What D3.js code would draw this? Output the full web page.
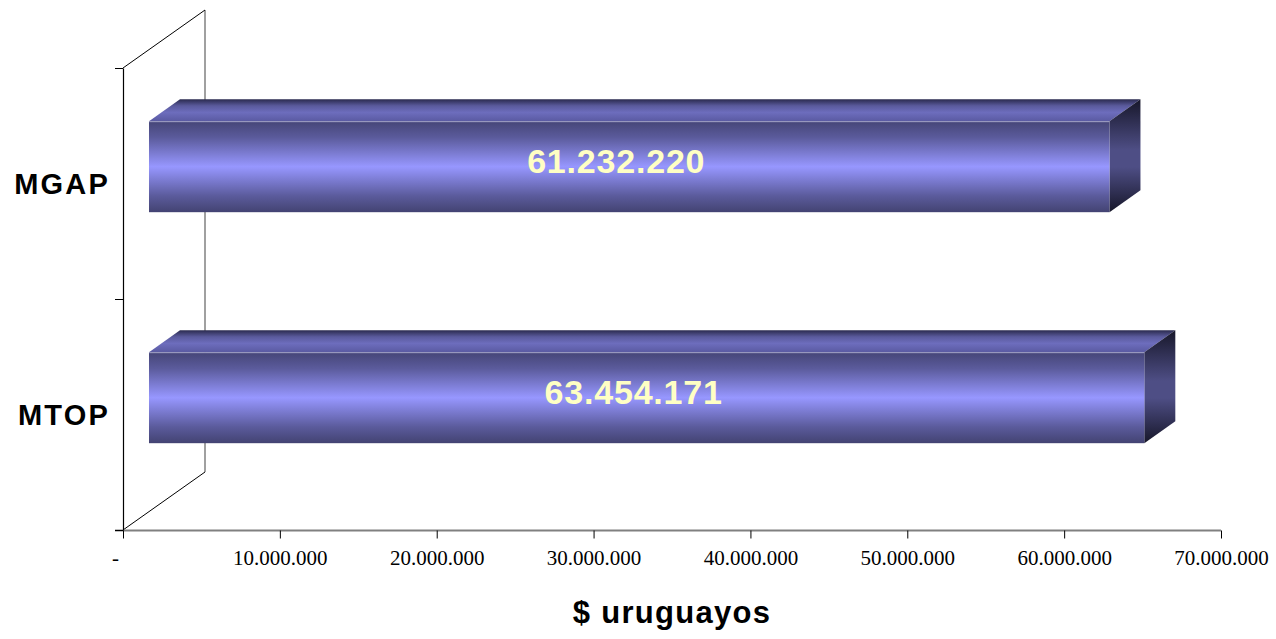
<!DOCTYPE html>
<html>
<head>
<meta charset="utf-8">
<script src="https://cdn.jsdelivr.net/npm/d3@7"></script>
<style>
  body { margin: 0; background: #fff; }
  svg { display: block; }
</style>
</head>
<body>
<svg id="chart" width="1276" height="639"></svg>
<script>
// data
const categories = ["MGAP", "MTOP"];
const values = [61232220, 63454171];
const xTicks = [0, 10000000, 20000000, 30000000, 40000000, 50000000, 60000000, 70000000];
const axisTitle = "$ uruguayos";

const svg = d3.select("#chart");
const defs = svg.append("defs");

const locale = d3.formatLocale({decimal: ",", thousands: ".", grouping: [3], currency: ["$", ""]});
const fmt = locale.format(",d");

// front plane
const x = d3.scaleLinear().domain([0, 70000000]).range([123, 1221]);
const y = d3.scaleBand().domain(categories).range([68, 530])
    .paddingInner(0.606).paddingOuter(0.303);
const yEdge = d3.scaleLinear().domain([0, categories.length]).range([68, 530]);

// depth of the 3d box
const wallDx = 82, wallDy = -58;
const fdx = wallDx * 0.317, fdy = wallDy * 0.29;
const bdx = wallDx * 0.695 - fdx, bdy = wallDy * 0.695 - wallDy * 0.317;

function vGrad(id, stops) {
    const g = defs.append("linearGradient").attr("id", id)
        .attr("x1", 0).attr("y1", 0).attr("x2", 0).attr("y2", 1);
    stops.forEach(s => g.append("stop").attr("offset", s[0]).attr("stop-color", s[1]));
}
vGrad("gFront", [[0, "#454577"], [0.18, "#5b5b9c"], [0.5, "#9797ff"], [0.82, "#5b5b9c"], [1, "#434372"]]);
vGrad("gTop", [[0, "#2a2a4e"], [0.3, "#5a5a9c"], [0.6, "#6d6dbd"], [1, "#5a5aa2"]]);
vGrad("gSide", [[0, "#17172a"], [0.45, "#4e4e85"], [0.6, "#4e4e85"], [1, "#17172a"]]);

// back wall edge
svg.append("line")
    .attr("x1", x(0) + wallDx).attr("y1", yEdge(0) + wallDy)
    .attr("x2", x(0) + wallDx).attr("y2", yEdge(categories.length) + wallDy)
    .attr("stroke", "#808080").attr("stroke-width", 1.5);

// diagonals from front to back
[0, categories.length].forEach(v => {
    svg.append("line")
        .attr("x1", x(0)).attr("y1", yEdge(v))
        .attr("x2", x(0) + wallDx).attr("y2", yEdge(v) + wallDy)
        .attr("stroke", "#000").attr("stroke-width", 1);
});

// bottom axis
const xAxis = svg.append("g")
    .attr("transform", `translate(0,${yEdge(categories.length) + 0.5})`)
    .call(d3.axisBottom(x).tickValues(xTicks).tickSize(8).tickSizeOuter(0)
        .tickFormat(d => d === 0 ? "-" : fmt(d)));
xAxis.select(".domain").attr("stroke", "#808080").attr("stroke-width", 2)
    .attr("d", `M${x(0) - 8},0H${x(70000000)}`);
xAxis.selectAll(".tick line").attr("stroke", "#000");
xAxis.selectAll(".tick text")
    .attr("font-family", "'Liberation Serif', 'Times New Roman', serif")
    .attr("font-size", 21).attr("fill", "#000").attr("dy", "1.1em")
    .attr("dx", d => d === 0 ? -8 : 0);

// left axis
const yAxis = svg.append("g")
    .attr("transform", `translate(${x(0)},0)`)
    .call(d3.axisLeft(yEdge).tickValues(d3.range(categories.length + 1))
        .tickSize(8).tickSizeOuter(0).tickFormat(""));
yAxis.select(".domain").attr("stroke", "#000").attr("stroke-width", 1.2);
yAxis.selectAll(".tick line").attr("stroke", "#000");

// category labels
svg.append("g").selectAll("text")
    .data(categories)
    .enter().append("text")
    .attr("x", 110)
    .attr("y", d => y(d) + y.bandwidth() / 2)
    .attr("text-anchor", "end")
    .attr("dominant-baseline", "central")
    .attr("font-family", "'Liberation Sans', Arial, sans-serif")
    .attr("font-weight", "bold")
    .attr("font-size", 29)
    .attr("letter-spacing", 2.2)
    .text(d => d);

// bars
const bars = svg.append("g").selectAll("g")
    .data(categories.map((c, i) => ({cat: c, value: values[i]})))
    .enter().append("g");

bars.each(function(d) {
    const g = d3.select(this);
    const x0 = x(0) + fdx, x1 = x(d.value) + fdx;
    const yT = y(d.cat) + fdy, yB = yT + y.bandwidth();
    g.append("polygon")
        .attr("points", [[x0, yT], [x0 + bdx, yT + bdy], [x1 + bdx, yT + bdy], [x1, yT]].join(" "))
        .attr("fill", "url(#gTop)");
    g.append("polygon")
        .attr("points", [[x1, yT], [x1 + bdx, yT + bdy], [x1 + bdx, yB + bdy], [x1, yB]].join(" "))
        .attr("fill", "url(#gSide)");
    g.append("rect")
        .attr("x", x0).attr("y", yT)
        .attr("width", x1 - x0).attr("height", yB - yT)
        .attr("fill", "url(#gFront)");
    g.append("line")
        .attr("x1", x0).attr("y1", yT + 0.5).attr("x2", x1).attr("y2", yT + 0.5)
        .attr("stroke", "#a4a4c8").attr("stroke-width", 1);
    g.append("text")
        .attr("x", (x(0) + x(d.value)) / 2 + 13)
        .attr("y", (yT + yB) / 2 - 6)
        .attr("text-anchor", "middle")
        .attr("dominant-baseline", "central")
        .attr("font-family", "'Liberation Sans', Arial, sans-serif")
        .attr("font-weight", "bold")
        .attr("font-size", 34)
        .attr("letter-spacing", 0.8)
        .attr("fill", "#ffffc4")
        .text(fmt(d.value));
});

// axis title
svg.append("text")
    .attr("x", (x(0) + x(70000000)) / 2)
    .attr("y", 623)
    .attr("text-anchor", "middle")
    .attr("font-family", "'Liberation Sans', Arial, sans-serif")
    .attr("font-weight", "bold")
    .attr("font-size", 31)
    .attr("letter-spacing", 1.3)
    .text(axisTitle);
</script>
</body>
</html>
